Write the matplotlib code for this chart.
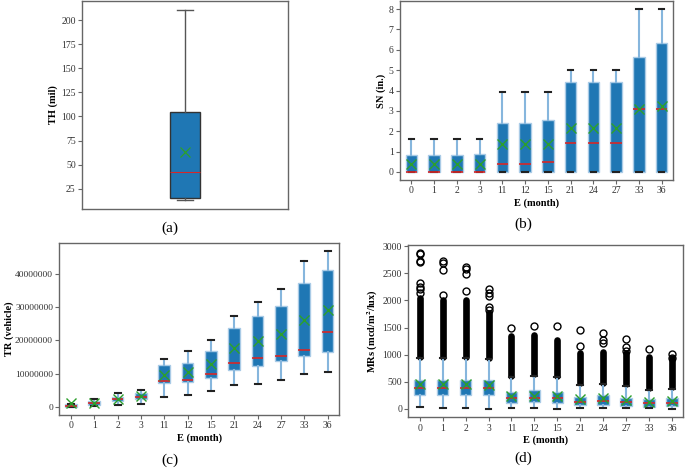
import matplotlib
matplotlib.use("Agg")
import matplotlib.pyplot as plt
from matplotlib import ticker

plt.rcParams['font.family'] = ['Liberation Serif', 'DejaVu Serif']
plt.rcParams['mathtext.fontset'] = 'stix'

# ---------------- data ----------------
months = ['0', '1', '2', '3', '11', '12', '15', '21', '24', '27', '33', '36']

# (a) TH (mil)
th_stats = dict(whislo=13.8, q1=15.5, med=42.6, q3=104.7, whishi=210.0, mean=63.0)

# (b) SN (in.)
sn_whislo = [0, 0, 0, 0, 0, 0, 0, 0, 0, 0, 0, 0]
sn_q1 = [0, 0, 0, 0, 0, 0, 0, 0, 0, 0, 0, 0]
sn_med = [0, 0, 0, 0, 0.41, 0.41, 0.5, 1.44, 1.44, 1.44, 3.1, 3.1]
sn_q3 = [0.82, 0.82, 0.82, 0.9, 2.41, 2.41, 2.54, 4.4, 4.4, 4.4, 5.66, 6.35]
sn_whishi = [1.6, 1.6, 1.6, 1.6, 3.91, 3.91, 3.91, 5.0, 5.0, 5.0, 8.0, 8.0]
sn_mean = [0.41, 0.41, 0.41, 0.41, 1.37, 1.37, 1.37, 2.18, 2.18, 2.18, 3.1, 3.22]

# (c) TR (vehicle), values in vehicles
tr_whislo = [0.0e6, 0.3e6, 0.5e6, 1.0e6, 3.16e6, 3.55e6, 4.74e6, 6.5e6, 6.9e6, 8.1e6, 9.9e6, 10.6e6]
tr_q1 = [0.05e6, 0.68e6, 1.78e6, 2.4e6, 7.1e6, 7.6e6, 8.8e6, 11.0e6, 12.4e6, 13.7e6, 15.2e6, 16.6e6]
tr_med = [0.3e6, 1.2e6, 2.3e6, 3.0e6, 7.7e6, 8.2e6, 9.8e6, 13.3e6, 14.6e6, 15.2e6, 17.2e6, 22.6e6]
tr_q3 = [0.85e6, 1.7e6, 3.0e6, 4.2e6, 12.64e6, 13.3e6, 16.9e6, 23.8e6, 27.2e6, 30.2e6, 37.2e6, 41.0e6]
tr_whishi = [1.0e6, 2.4e6, 4.1e6, 5.0e6, 14.3e6, 16.9e6, 20.0e6, 27.4e6, 31.5e6, 35.5e6, 43.7e6, 46.9e6]
tr_mean = [1.27e6, 1.35e6, 2.3e6, 3.3e6, 9.6e6, 10.4e6, 12.8e6, 17.7e6, 19.9e6, 21.9e6, 26.2e6, 29.1e6]

# (d) MRs (mcd/m2/lux)
mr_whislo = [31, 12, 12, 0, 12, 25, 6, 12, 12, 12, 12, 6]
mr_q1 = [258, 258, 258, 258, 104, 123, 104, 74, 74, 61, 43, 55]
mr_med = [386, 386, 386, 386, 196, 208, 196, 129, 147, 129, 104, 117]
mr_q3 = [534, 534, 534, 534, 307, 350, 307, 215, 258, 209, 178, 196]
mr_whishi = [933, 933, 933, 914, 583, 610, 580, 440, 455, 430, 350, 375]
mr_mean = [460, 455, 455, 450, 245, 245, 245, 178, 196, 166, 135, 153]
# sparse (individually visible) outliers
mr_fliers = [
    [2877, 2847, 2730, 2700, 2313, 2251, 2202, 2141],
    [2724, 2681, 2558, 2098],
    [2607, 2570, 2478, 2172],
    [2202, 2141, 2080, 1883, 1822],
    [1497],
    [1533],
    [1533],
    [1454, 1166],
    [1405, 1270, 1221],
    [1288, 1147, 1074],
    [1104],
    [1006, 945],
]
# dense outlier bands (overlapping markers), [lowest, highest]
mr_band_lo = [963, 960, 963, 935, 610, 640, 600, 470, 480, 460, 380, 400]
mr_band_hi = [2037, 2006, 2006, 1761, 1344, 1362, 1270, 1037, 1055, 1037, 957, 932]

# ---------------- style ----------------
BLUE = '#1f77b4'
RED = '#d62728'
GREEN = '#2ca02c'
SPINE = '#666666'
TXT = '#333333'


def make_stats(whislo, q1, med, q3, whishi, mean, fliers=None):
    out = []
    for i in range(len(med)):
        out.append(dict(whislo=whislo[i], q1=q1[i], med=med[i], q3=q3[i],
                        whishi=whishi[i], mean=mean[i],
                        fliers=(fliers[i] if fliers else [])))
    return out


def style_axes(ax):
    for s in ax.spines.values():
        s.set_color(SPINE)
        s.set_linewidth(1.0)
    ax.tick_params(axis='both', colors=SPINE, labelcolor=TXT, labelsize=7,
                   length=3, width=0.8, pad=1.5)


def draw_multi(ax, stats):
    ax.bxp(stats, positions=range(1, len(stats) + 1), widths=0.5,
           patch_artist=True, showmeans=True,
           boxprops=dict(facecolor=BLUE, edgecolor='#a9cbe6', linewidth=1.0),
           whiskerprops=dict(color='#86b6dd', linewidth=1.5),
           capprops=dict(color='#222222', linewidth=1.5),
           medianprops=dict(color=RED, linewidth=1.2),
           meanprops=dict(marker='x', markeredgecolor=GREEN, markersize=7,
                          markeredgewidth=1.0),
           flierprops=dict(marker='o', markerfacecolor='none',
                           markeredgecolor='black', markersize=5,
                           markeredgewidth=1.0))
    ax.set_xticks(range(1, len(stats) + 1))
    ax.set_xticklabels(months)
    ax.set_xlabel('E (month)', fontsize=7.5, fontweight='bold', labelpad=2)


fig = plt.figure(figsize=(6.85, 4.71), dpi=100)

# (a)
axa = fig.add_axes([82 / 685, 1 - 209 / 471, 206 / 685, 208 / 471])
sa = dict(th_stats)
sa['fliers'] = []
axa.bxp([sa], positions=[1], widths=0.15, patch_artist=True, showmeans=True,
        boxprops=dict(facecolor=BLUE, edgecolor='#333333', linewidth=1.0),
        whiskerprops=dict(color='#555555', linewidth=1.0),
        capprops=dict(color='#555555', linewidth=1.0),
        medianprops=dict(color=RED, linewidth=0.8),
        meanprops=dict(marker='x', markeredgecolor=GREEN, markersize=7,
                       markeredgewidth=0.9))
style_axes(axa)
axa.set_xticks([])
axa.set_xlim(0.5, 1.5)
axa.set_ylabel('TH (mil)', fontsize=7.5, fontweight='bold', labelpad=2)

# (b)
axb = fig.add_axes([400 / 685, 1 - 180 / 471, 273 / 685, 179 / 471])
draw_multi(axb, make_stats(sn_whislo, sn_q1, sn_med, sn_q3, sn_whishi, sn_mean))
style_axes(axb)
axb.set_ylabel('SN (in.)', fontsize=7.5, fontweight='bold', labelpad=2)

# (c)
axc = fig.add_axes([59.3 / 685, 1 - 415 / 471, 280 / 685, 172.3 / 471])
draw_multi(axc, make_stats(tr_whislo, tr_q1, tr_med, tr_q3, tr_whishi, tr_mean))
style_axes(axc)
fmt = ticker.ScalarFormatter(useOffset=False)
fmt.set_scientific(False)
axc.yaxis.set_major_formatter(fmt)
axc.set_yticks([0, 10000000, 20000000, 30000000, 40000000])
axc.tick_params(axis='y', labelsize=6.8)
axc.set_ylabel('TR (vehicle)', fontsize=7.5, fontweight='bold', labelpad=1)

# (d)
axd = fig.add_axes([408.3 / 685, 1 - 417.3 / 471, 275 / 685, 172.3 / 471])
for i in range(len(months)):
    axd.plot([i + 1, i + 1], [mr_band_lo[i], mr_band_hi[i]], color='black',
             linewidth=4.8, solid_capstyle='round', zorder=1)
draw_multi(axd, make_stats(mr_whislo, mr_q1, mr_med, mr_q3, mr_whishi, mr_mean,
                           mr_fliers))
style_axes(axd)
axd.set_ylim(-153, 3020)
axd.set_yticks([0, 500, 1000, 1500, 2000, 2500, 3000])
axd.set_ylabel('MRs (mcd/m$^\\mathbf{2}$/lux)', fontsize=7.5, fontweight='bold',
               labelpad=2)

# panel letters
for x, y, t in [(170, 228, '(a)'), (523, 224, '(b)'), (170, 460, '(c)'), (523, 458, '(d)')]:
    fig.text(x / 685, 1 - y / 471, t, ha='center', va='center', fontsize=11,
             color='black')

fig.savefig('out.png', dpi=100)
